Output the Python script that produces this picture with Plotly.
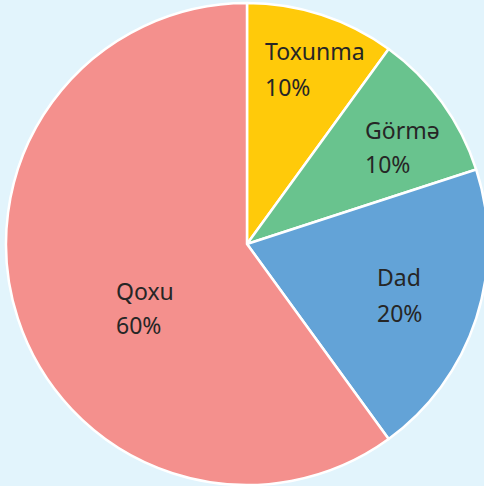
import plotly.graph_objects as go

# Share of each sense (percent)
senses = ["Toxunma", "Görmə", "Dad", "Qoxu"]
shares = [10, 10, 20, 60]
slice_colors = ["#FFCA0A", "#69C38E", "#63A3D7", "#F4908D"]

# Left edge / vertical middle (in pixels) of each two-line label
label_x = [263, 363, 375, 114]
name_y = [51, 130, 277, 291]
pct_y = [87, 164, 313, 325]

# The figure is a little wider than the view so the pie runs off the right edge
W, H = 490, 486

fig = go.Figure(
    go.Pie(
        labels=senses,
        values=shares,
        sort=False,
        direction="clockwise",
        rotation=0,
        marker=dict(colors=slice_colors, line=dict(color="white", width=2.5)),
        textinfo="none",
        hoverinfo="label+percent",
        showlegend=False,
        domain=dict(x=[6 / W, 488 / W], y=[1 / H, 1 - 3 / H]),
    )
)

annotations = []
font = dict(family="Noto Sans, Open Sans, sans-serif", size=23, color="#262626")
for name, share, lx, ny, py in zip(senses, shares, label_x, name_y, pct_y):
    annotations.append(dict(
        text=name, x=lx / W, y=1 - ny / H, xref="paper", yref="paper",
        xanchor="left", yanchor="middle", showarrow=False, font=font,
    ))
    annotations.append(dict(
        text=f"{share}%", x=lx / W, y=1 - py / H, xref="paper", yref="paper",
        xanchor="left", yanchor="middle", showarrow=False, font=font,
    ))

fig.update_layout(
    width=W,
    height=H,
    margin=dict(l=0, r=0, t=0, b=0),
    paper_bgcolor="#E2F4FC",
    plot_bgcolor="#E2F4FC",
    annotations=annotations,
)

fig.write_html(
    "out.html",
    post_script=(
        "document.documentElement.style.overflow='hidden';"
        "document.body.style.overflow='hidden';"
        "document.body.style.margin='0';"
    ),
)
